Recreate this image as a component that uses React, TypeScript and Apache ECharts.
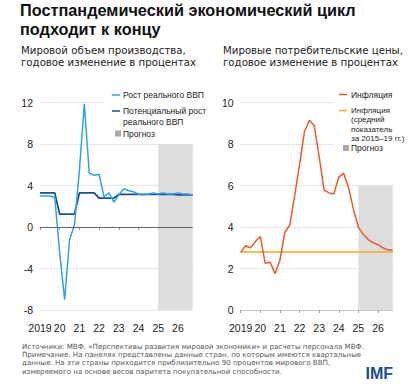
import React, { useEffect, useRef } from "react";
import * as echarts from "echarts";

const quarters = [
  "2019Q1","2019Q2","2019Q3","2019Q4","2020Q1","2020Q2","2020Q3","2020Q4",
  "2021Q1","2021Q2","2021Q3","2021Q4","2022Q1","2022Q2","2022Q3","2022Q4",
  "2023Q1","2023Q2","2023Q3","2023Q4","2024Q1","2024Q2","2024Q3","2024Q4",
  "2025Q1","2025Q2","2025Q3","2025Q4","2026Q1","2026Q2","2026Q3","2026Q4",
];
const realGdpGrowth = [
  3.0, 3.0, 3.0, 2.85, -2.5, -7.0, -1.2, 0.2,
  5.5, 11.9, 5.2, 5.0, 5.1, 2.9, 3.3, 2.4,
  3.1, 3.7, 3.5, 3.4, 3.2, 3.1, 3.2, 3.3,
  3.2, 3.3, 3.2, 3.2, 3.3, 3.2, 3.2, 3.1,
];
const potentialGrowth = [
  3.3, 3.3, 3.3, 3.3, 1.25, 1.25, 1.25, 1.25,
  3.3, 3.3, 3.3, 3.3, 2.8, 2.8, 2.8, 2.8,
  3.15, 3.15, 3.15, 3.15, 3.15, 3.15, 3.15, 3.15,
  3.15, 3.15, 3.15, 3.15, 3.1, 3.1, 3.1, 3.1,
];
const inflation = [
  2.78, 3.1, 3.0, 3.3, 3.55, 2.25, 2.3, 1.75,
  2.4, 3.75, 4.1, 5.5, 7.0, 8.6, 9.15, 8.9,
  7.4, 5.8, 5.65, 5.6, 6.4, 6.6, 5.9, 4.85,
  4.0, 3.65, 3.4, 3.25, 3.15, 3.0, 2.9, 2.9,
];
const avgInflation2015_19 = 2.8;
const yearTicks = [2019, 2020, 2021, 2022, 2023, 2024, 2025, 2026];
const forecastStart = 2025;
const gdpTicks = [-8, -4, 0, 4, 8, 12];
const cpiTicks = [0, 2, 4, 6, 8, 10];

const title = ["Постпандемический экономический цикл", "подходит к концу"];
const leftSubtitle = ["Мировой объем производства,", "годовое изменение в процентах"];
const rightSubtitle = ["Мировые потребительские цены,", "годовое изменение в процентах"];
const footnote = [
  "Источники: МВФ, «Перспективы развития мировой экономики» и расчеты персонала МВФ.",
  "Примечание. На панелях представлены данные стран, по которым имеются квартальные",
  "данные. На эти страны приходится приблизительно 90 процентов мирового ВВП,",
  "измеряемого на основе весов паритета покупательной способности.",
];

const C_GDP = "#2ea3df";
const C_POT = "#1f4b97";
const C_INF = "#eb5a25";
const C_AVG = "#f5a623";
const C_FC = "#dddddd";
const FONT = "'Liberation Sans', Arial, sans-serif";
const WIDE = "'DejaVu Sans', 'Liberation Sans', sans-serif";

const qx = (q: string) => Number(q.slice(0, 4)) + (Number(q.slice(5)) - 1) / 4;
const xMin = qx(quarters[0]);
const xMax = qx(quarters[quarters.length - 1]);
const pairs = (vals: number[]) => quarters.map((q, i) => [qx(q), vals[i]]);

export default function App() {
  const ref = useRef<HTMLDivElement>(null);
  useEffect(() => {
    if (!ref.current) return;
    const chart = echarts.init(ref.current, undefined, { renderer: "svg" });

    const xAxisBase = (gridIndex: number) => ({
      type: "value",
      gridIndex,
      min: xMin,
      max: xMax,
      interval: 1,
      axisLine: { show: true, lineStyle: { color: "#c8c8c8", width: 1 } },
      axisTick: { show: true, length: 3, customValues: yearTicks, lineStyle: { color: "#999" } },
      axisLabel: {
        customValues: yearTicks,
        margin: 12,
        fontSize: 10.5,
        color: "#222",
        fontFamily: FONT,
        formatter: (v: number) => (v === 2019 ? "2019" : String(v).slice(2)),
      },
      splitLine: { show: false },
    });
    const yAxisBase = (gridIndex: number, ticks: number[]) => ({
      type: "value",
      gridIndex,
      min: ticks[0],
      max: ticks[ticks.length - 1],
      interval: ticks[1] - ticks[0],
      axisLine: { show: false },
      axisTick: { show: false },
      axisLabel: { fontSize: 10.5, color: "#222", margin: 7, fontFamily: FONT },
      splitLine: { show: true, lineStyle: { color: "#e6e6e6", width: 1 } },
    });

    // multi-line text block; y = center of first line
    const txt = (lines: string[], x: number, y: number, size: number, lh: number, opts: any = {}) => ({
      type: "text",
      x,
      y: y - lh / 2,
      z: 100,
      style: {
        text: lines.join("\n"),
        fill: opts.fill || "#222",
        font: `${opts.weight || "normal"} ${size}px ${opts.family || FONT}`,
        lineHeight: lh,
        verticalAlign: "top",
        align: opts.align || "left",
      },
    });
    const legLine = (x: number, y: number, color: string) => ({
      type: "line",
      z: 100,
      shape: { x1: x, y1: y, x2: x + 8, y2: y },
      style: { stroke: color, lineWidth: 1.5 },
    });
    const legSq = (x: number, y: number) => ({
      type: "rect",
      z: 100,
      shape: { x, y: y - 3, width: 6, height: 6 },
      style: { fill: "#aaa" },
    });

    const graphic: any[] = [
      txt(title, 20, 9.8, 16.3, 18.8, { weight: "bold", fill: "#111" }),
      txt(leftSubtitle, 21, 50.5, 10.2, 12.1, { family: WIDE }),
      txt(rightSubtitle, 223, 50.5, 10.2, 12.1, { family: WIDE }),
      { type: "rect", z: 90, shape: { x: 104, y: 88, width: 100, height: 52 }, style: { fill: "#fff" } },
      { type: "rect", z: 90, shape: { x: 334, y: 88, width: 79, height: 64 }, style: { fill: "#fff" } },
      legLine(112, 95, C_GDP),
      txt(["Рост реального ВВП"], 123, 95, 8.5, 10),
      legLine(112, 111, C_POT),
      txt(["Потенциальный рост", "реального ВВП"], 123, 111, 8.5, 10.5),
      legSq(115, 133.5),
      txt(["Прогноз"], 123, 133.5, 8.5, 10),
      legLine(339, 94.5, C_INF),
      txt(["Инфляция"], 351, 94.5, 8.5, 10),
      legLine(339, 110.5, C_AVG),
      txt(["Инфляция", "(средний", "показатель", "за 2015–19 гг.)"], 351, 110.5, 8, 9.3),
      legSq(343, 148),
      txt(["Прогноз"], 351, 148, 8.5, 9.3),
      txt(footnote, 22, 346, 7.1, 8.4, { fill: "#555", family: WIDE }),
      txt(["IMF"], 393, 373, 16, 16, { weight: "bold", fill: "#1f4b97", align: "right" }),
    ];

    chart.setOption({
      animation: false,
      grid: [
        { left: 40, top: 102.7, width: 152.7, height: 207.3 },
        { left: 240.7, top: 102.7, width: 152, height: 207.3 },
      ],
      xAxis: [xAxisBase(0), xAxisBase(1)],
      yAxis: [yAxisBase(0, gdpTicks), yAxisBase(1, cpiTicks)],
      graphic,
      series: [
        {
          type: "line",
          xAxisIndex: 0,
          yAxisIndex: 0,
          data: [],
          z: 1,
          silent: true,
          markArea: {
            silent: true,
            itemStyle: { color: C_FC },
            data: [[{ xAxis: forecastStart, yAxis: 8 }, { xAxis: xMax, yAxis: -8 }]],
          },
          markLine: {
            silent: true,
            symbol: "none",
            label: { show: false },
            lineStyle: { color: "#666", width: 1, type: "solid" },
            data: [{ yAxis: 0 }],
          },
        },
        {
          type: "line",
          xAxisIndex: 1,
          yAxisIndex: 1,
          data: [],
          z: 1,
          silent: true,
          markArea: {
            silent: true,
            itemStyle: { color: C_FC },
            data: [[{ xAxis: forecastStart, yAxis: 6 }, { xAxis: xMax, yAxis: 0 }]],
          },
        },
        {
          name: "Потенциальный рост реального ВВП",
          type: "line",
          xAxisIndex: 0,
          yAxisIndex: 0,
          data: pairs(potentialGrowth),
          showSymbol: false,
          z: 3,
          lineStyle: { color: C_POT, width: 1.8 },
        },
        {
          name: "Рост реального ВВП",
          type: "line",
          xAxisIndex: 0,
          yAxisIndex: 0,
          data: pairs(realGdpGrowth),
          showSymbol: false,
          z: 4,
          lineStyle: { color: C_GDP, width: 1.5 },
        },
        {
          name: "Инфляция (средний показатель за 2015–19 гг.)",
          type: "line",
          xAxisIndex: 1,
          yAxisIndex: 1,
          data: [[xMin, avgInflation2015_19], [xMax, avgInflation2015_19]],
          showSymbol: false,
          z: 3,
          lineStyle: { color: C_AVG, width: 1.5 },
        },
        {
          name: "Инфляция",
          type: "line",
          xAxisIndex: 1,
          yAxisIndex: 1,
          data: pairs(inflation),
          showSymbol: false,
          z: 4,
          lineStyle: { color: C_INF, width: 1.5 },
        },
      ],
    });
    return () => chart.dispose();
  }, []);
  return (
    <div
      ref={ref}
      style={{ position: "absolute", left: 0, top: 0, width: 413, height: 387, background: "#fff" }}
    />
  );
}
